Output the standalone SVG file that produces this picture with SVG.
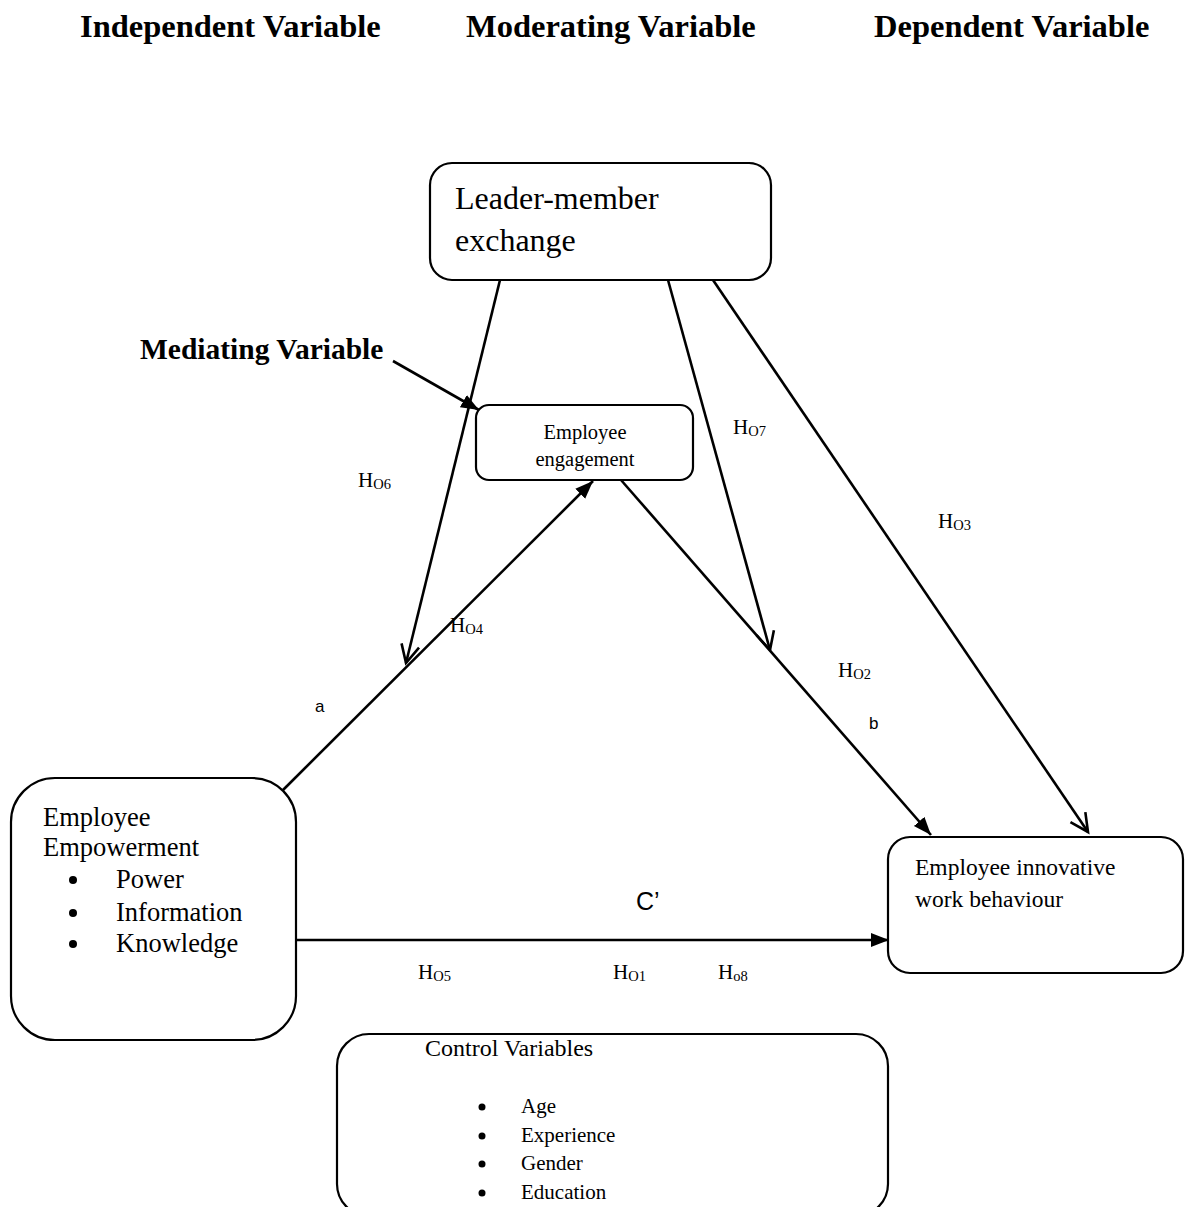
<svg xmlns="http://www.w3.org/2000/svg" width="1187" height="1207" viewBox="0 0 1187 1207">
  <style>
    .box { fill: #ffffff; stroke: #000000; stroke-width: 2.2; }
    .serif { font-family: "Liberation Serif", "Times New Roman", serif; fill: #000000; }
    .sans { font-family: "Liberation Sans", Arial, sans-serif; fill: #000000; }
    .title { font-weight: bold; font-size: 32.5px; }
    .conn { stroke: #000000; stroke-width: 2.6; fill: none; }
    .hyp { font-size: 21px; }
    .sub { font-size: 14.5px; }
  </style>
  <defs>
    <marker id="solid" markerUnits="userSpaceOnUse" markerWidth="20" markerHeight="16" refX="18" refY="8" orient="auto">
      <path d="M0,1 L18,8 L0,15 Z" fill="#000000"/>
    </marker>
    <marker id="open" markerUnits="userSpaceOnUse" markerWidth="24" markerHeight="24" refX="20" refY="12" orient="auto">
      <path d="M2,3 L20,12 L2,21" fill="none" stroke="#000000" stroke-width="2.6"/>
    </marker>
  </defs>

  <rect width="1187" height="1207" fill="#ffffff"/>

  <!-- column headings -->
  <g id="headings" class="serif title">
    <text x="80" y="37">Independent Variable</text>
    <text x="466" y="37">Moderating Variable</text>
    <text x="874" y="37">Dependent Variable</text>
  </g>

  <!-- connectors -->
  <g id="connectors" class="conn">
    <line x1="500" y1="280" x2="406" y2="663" marker-end="url(#open)"/>
    <line x1="668" y1="280" x2="770" y2="650" marker-end="url(#open)"/>
    <line x1="713" y1="280" x2="1088" y2="832" marker-end="url(#open)"/>
    <line x1="283" y1="790" x2="593" y2="481" marker-end="url(#solid)"/>
    <line x1="621" y1="480" x2="931" y2="835" marker-end="url(#solid)"/>
    <line x1="297" y1="940" x2="889" y2="940" marker-end="url(#solid)"/>
    <line x1="393" y1="361" x2="479" y2="410" marker-end="url(#solid)"/>
  </g>

  <!-- moderator -->
  <g id="lmx">
    <rect class="box" x="430" y="163" width="341" height="117" rx="22"/>
    <text class="serif" x="455" y="209" font-size="32">Leader-member</text>
    <text class="serif" x="455" y="251" font-size="32">exchange</text>
  </g>

  <!-- mediator -->
  <g id="mediating-label">
    <text class="serif" x="140" y="359" font-size="29.5" font-weight="bold">Mediating Variable</text>
  </g>
  <g id="engagement">
    <rect class="box" x="476" y="405" width="217" height="75" rx="13"/>
    <text class="serif" x="585" y="439" font-size="20.5" text-anchor="middle">Employee</text>
    <text class="serif" x="585" y="466" font-size="20.5" text-anchor="middle">engagement</text>
  </g>

  <!-- independent variable -->
  <g id="empowerment">
    <rect class="box" x="11" y="778" width="285" height="262" rx="44"/>
    <text class="serif" x="43" y="826" font-size="26.5">Employee</text>
    <text class="serif" x="43" y="856" font-size="26.5">Empowerment</text>
    <circle cx="73" cy="880" r="4"/>
    <circle cx="73" cy="913" r="4"/>
    <circle cx="73" cy="944" r="4"/>
    <text class="serif" x="116" y="888" font-size="26.5">Power</text>
    <text class="serif" x="116" y="921" font-size="26.5">Information</text>
    <text class="serif" x="116" y="952" font-size="26.5">Knowledge</text>
  </g>

  <!-- dependent variable -->
  <g id="innovative-behaviour">
    <rect class="box" x="888" y="837" width="295" height="136" rx="22"/>
    <text class="serif" x="915" y="875" font-size="23.5">Employee innovative</text>
    <text class="serif" x="915" y="907" font-size="23.5">work behaviour</text>
  </g>

  <!-- controls -->
  <g id="controls">
    <rect class="box" x="337" y="1034" width="551" height="182" rx="32"/>
    <text class="serif" x="425" y="1056" font-size="24">Control Variables</text>
    <circle cx="482" cy="1107" r="3.5"/>
    <circle cx="482" cy="1136" r="3.5"/>
    <circle cx="482" cy="1164" r="3.5"/>
    <circle cx="482" cy="1193" r="3.5"/>
    <text class="serif" x="521" y="1113" font-size="21">Age</text>
    <text class="serif" x="521" y="1142" font-size="21">Experience</text>
    <text class="serif" x="521" y="1170" font-size="21">Gender</text>
    <text class="serif" x="521" y="1199" font-size="21">Education</text>
  </g>

  <!-- path labels -->
  <g id="labels">
    <text class="serif hyp" x="358" y="487">H<tspan class="sub" dy="2">O6</tspan></text>
    <text class="serif hyp" x="733" y="434">H<tspan class="sub" dy="2">O7</tspan></text>
    <text class="serif hyp" x="938" y="528">H<tspan class="sub" dy="2">O3</tspan></text>
    <text class="serif hyp" x="450" y="632">H<tspan class="sub" dy="2">O4</tspan></text>
    <text class="serif hyp" x="838" y="677">H<tspan class="sub" dy="2">O2</tspan></text>
    <text class="serif hyp" x="418" y="979">H<tspan class="sub" dy="2">O5</tspan></text>
    <text class="serif hyp" x="613" y="979">H<tspan class="sub" dy="2">O1</tspan></text>
    <text class="serif hyp" x="718" y="979">H<tspan class="sub" dy="2">o8</tspan></text>
    <text class="sans" x="315" y="712" font-size="17">a</text>
    <text class="sans" x="869" y="729" font-size="17">b</text>
    <text class="sans" x="636" y="910" font-size="25">C’</text>
  </g>
</svg>
